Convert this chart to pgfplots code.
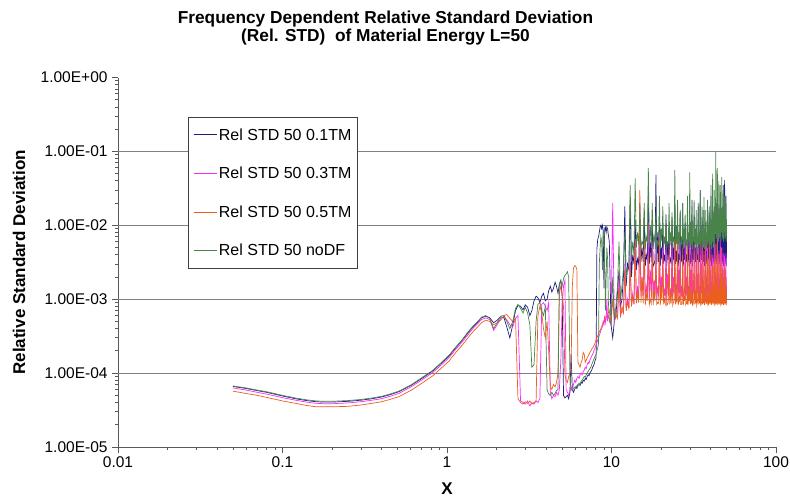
\documentclass[border=0pt]{standalone}
\usepackage{pgfplots}
\pgfplotsset{compat=1.18}
\usepackage{pgfplotstable}
\usepackage{fontspec}
\setmainfont{Liberation Sans}

\definecolor{stdA}{RGB}{30,30,125}
\definecolor{stdB}{RGB}{255,40,255}
\definecolor{stdC}{RGB}{235,95,28}
\definecolor{stdD}{RGB}{72,132,72}
\definecolor{gridgray}{RGB}{128,128,128}

% columns: x, b = 0.1TM, m = 0.3TM, o = 0.5TM, g = noDF
\pgfplotstableread{
x b m o g
0.05 6.6e-5 6.3e-5 5.7e-5 6.7e-5
0.06 6.2e-5 5.9e-5 5.3e-5 6.3e-5
0.07 5.8e-5 5.5e-5 5.0e-5 5.9e-5
0.08 5.5e-5 5.2e-5 4.7e-5 5.6e-5
0.10 4.9e-5 4.65e-5 4.2e-5 5.0e-5
0.12 4.5e-5 4.3e-5 3.9e-5 4.6e-5
0.14 4.25e-5 4.05e-5 3.65e-5 4.35e-5
0.16 4.1e-5 3.9e-5 3.5e-5 4.2e-5
0.18 4.05e-5 3.85e-5 3.5e-5 4.15e-5
0.20 4.05e-5 3.85e-5 3.5e-5 4.15e-5
0.25 4.15e-5 3.95e-5 3.55e-5 4.25e-5
0.30 4.3e-5 4.1e-5 3.7e-5 4.4e-5
0.35 4.5e-5 4.3e-5 3.9e-5 4.6e-5
0.40 4.75e-5 4.5e-5 4.1e-5 4.85e-5
0.45 5.1e-5 4.85e-5 4.4e-5 5.2e-5
0.51 5.6e-5 5.3e-5 4.8e-5 5.7e-5
0.61 6.9e-5 6.6e-5 5.9e-5 7.0e-5
0.71 8.6e-5 8.2e-5 7.4e-5 8.8e-5
0.82 1.07e-4 1.02e-4 9.2e-5 1.09e-4
0.92 1.35e-4 1.28e-4 1.16e-4 1.38e-4
1.03 1.7e-4 1.62e-4 1.46e-4 1.75e-4
1.13 2.2e-4 2.1e-4 1.9e-4 2.25e-4
1.24 2.8e-4 2.65e-4 2.4e-4 2.85e-4
1.34 3.5e-4 3.3e-4 3.0e-4 3.6e-4
1.45 4.3e-4 4.1e-4 3.7e-4 4.4e-4
1.55 5.0e-4 4.75e-4 4.3e-4 5.1e-4
1.62 5.6e-4 5.3e-4 4.8e-4 5.7e-4
1.72 5.9e-4 5.6e-4 5.2e-4 6.0e-4
1.82 5.6e-4 5.3e-4 5.0e-4 5.5e-4
1.92 4.8e-4 3.8e-4 4.5e-4 4.0e-4
2.02 5.2e-4 4.5e-4 4.8e-4 4.8e-4
2.12 5.8e-4 5.5e-4 5.2e-4 5.9e-4
2.22 5.6e-4 5.8e-4 6.0e-4 6.0e-4
2.31 4.2e-4 5.3e-4 6.2e-4 5.0e-4
2.41 3.0e-4 4.5e-4 5.5e-4 4.0e-4
2.51 4.5e-4 4.2e-4 5.0e-4 5.0e-4
2.61 7.0e-4 5.5e-4 5.5e-4 7.5e-4
2.70 8.3e-4 6.0e-4 4.5e-5 8.5e-4
2.80 8.0e-4 4.2e-5 4.0e-5 7.5e-4
2.90 7.2e-4 4.0e-5 3.8e-5 6.5e-4
2.99 8.4e-4 3.8e-5 4.1e-5 7.8e-4
3.09 7.8e-4 4.2e-5 3.9e-5 6.5e-4
3.19 6.0e-4 3.6e-5 4.2e-5 4.5e-4
3.28 7.0e-4 4.0e-5 3.8e-5 1.2e-4
3.38 9.5e-4 3.8e-5 4.0e-5 1.3e-4
3.48 1.1e-3 4.2e-5 4.2e-5 5.0e-4
3.57 1.05e-3 4.0e-5 6.0e-4 8.5e-4
3.67 9.0e-4 4.5e-5 8.0e-4 9.0e-4
3.77 1.1e-3 8.5e-4 6.5e-4 7.0e-4
3.86 1.2e-3 9.0e-4 4.0e-4 6.0e-4
3.96 9.5e-4 8.0e-4 3.0e-4 8.0e-4
4.06 1.0e-3 7.0e-4 5.0e-4 6.0e-5
4.15 1.3e-3 9.0e-4 2.0e-4 5.2e-5
4.25 1.5e-3 5.5e-5 6.6e-5 5.0e-5
4.34 1.25e-3 4.5e-5 6.0e-5 5.5e-5
4.44 1.4e-3 5.0e-5 7.0e-5 5.0e-5
4.54 1.7e-3 4.8e-5 6.5e-5 5.3e-5
4.63 1.5e-3 5.5e-5 7.5e-5 5.8e-5
4.73 1.2e-3 5.0e-5 1.0e-4 6.0e-5
4.82 1.6e-3 6.0e-5 1.2e-3 1.6e-3
4.92 1.8e-3 1.5e-4 1.5e-3 1.8e-3
5.01 1.1e-3 8.0e-4 1.2e-3 1.5e-3
5.11 5.0e-5 1.5e-3 8.0e-4 1.9e-3
5.21 4.6e-5 1.8e-3 9.5e-5 2.1e-3
5.30 4.8e-5 6.0e-5 8.0e-5 2.2e-3
5.40 5.0e-5 5.5e-5 7.5e-5 2.35e-3
5.49 4.5e-5 5.0e-5 9.0e-5 2.0e-3
5.59 5.5e-5 5.8e-5 1.0e-4 8.5e-5
5.68 1.8e-4 6.5e-5 1.2e-4 6.0e-5
5.78 6.0e-5 6.0e-5 1.5e-3 5.8e-5
5.87 5.5e-5 7.0e-5 2.6e-3 6.2e-5
5.97 6.0e-5 8.0e-5 2.85e-3 6.5e-5
6.06 6.5e-5 7.5e-5 2.8e-3 6.3e-5
6.16 6.2e-5 8.5e-5 2.5e-3 6.8e-5
6.25 6.8e-5 9.0e-5 1.4e-4 7.0e-5
6.35 7.0e-5 8.5e-5 1.3e-4 7.3e-5
6.44 6.8e-5 9.5e-5 1.2e-4 7.0e-5
6.54 7.5e-5 1.0e-4 1.4e-4 7.8e-5
6.63 7.3e-5 9.5e-5 1.5e-4 8.0e-5
6.73 8.0e-5 1.05e-4 1.9e-4 8.5e-5
6.83 7.8e-5 1.1e-4 1.8e-4 9.0e-5
6.92 8.5e-5 1.2e-4 1.4e-4 8.8e-5
7.02 8.2e-5 1.15e-4 1.5e-4 9.5e-5
7.11 9.0e-5 1.3e-4 1.6e-4 1.0e-4
7.21 9.5e-5 1.4e-4 1.7e-4 1.05e-4
7.30 9.2e-5 1.35e-4 1.8e-4 1.1e-4
7.39 1.0e-4 1.5e-4 1.9e-4 1.15e-4
7.49 1.05e-4 1.6e-4 2.0e-4 1.2e-4
7.58 1.1e-4 1.7e-4 2.1e-4 1.3e-4
7.68 1.2e-4 1.8e-4 2.2e-4 1.4e-4
7.77 1.25e-4 1.9e-4 2.3e-4 1.5e-4
7.87 1.35e-4 2.1e-4 2.4e-4 1.6e-4
7.96 1.5e-4 2.2e-4 2.6e-4 1.7e-4
8.06 1.6e-4 2.4e-4 2.8e-4 1.8e-4
8.15 4.7e-3 2.6e-4 3.0e-4 2.0e-4
8.25 6.5e-3 2.8e-4 3.2e-4 2.2e-4
8.34 7.0e-3 3.0e-4 3.4e-4 2.5e-4
8.43 8.0e-3 3.2e-4 3.6e-4 3.0e-3
8.53 9.5e-3 3.5e-4 3.8e-4 5.0e-3
8.62 1.0e-2 3.8e-4 4.0e-4 7.0e-3
8.72 9.0e-3 4.0e-4 4.3e-4 6.0e-3
8.81 1.0e-2 4.3e-4 4.5e-4 2.5e-3
8.90 8.5e-3 5.0e-4 4.8e-4 8.0e-3
9.00 1.4e-3 4.5e-4 5.0e-4 8.6e-3
9.09 9.0e-3 6.0e-4 5.3e-4 4.0e-3
9.18 9.5e-3 4.8e-4 5.5e-4 7.0e-4
9.28 8.0e-3 5.5e-4 5.8e-4 2.0e-3
9.37 9.5e-3 1.0e-3 6.0e-4 5.0e-3
9.47 9.0e-3 5.0e-4 6.3e-4 3.5e-3
9.56 7.5e-3 6.0e-4 6.5e-4 1.0e-3
9.70 6.0e-3 5.5e-4 7.0e-4 5.0e-4
9.935 4.5e-4 4.5e-4 4.8e-4 4.6e-4
10.17 3.0e-4 2.0e-2 1.0e-3 2.0e-3
10.405 5.0e-4 5.0e-4 5.2e-4 5.2e-4
10.64 6.0e-4 6.0e-4 6.5e-4 8.0e-4
10.875 1.2e-3 5.5e-4 5.6e-4 1.5e-3
11.11 2.5e-3 2.0e-3 1.5e-3 6.0e-3
11.345 8.0e-4 6.0e-4 6.0e-4 1.0e-3
11.58 1.0e-3 7.0e-4 8.0e-4 1.5e-3
11.815 2.0e-3 6.5e-4 6.5e-4 2.5e-3
12.05 1.8e-2 3.0e-3 2.5e-3 8.0e-3
12.285 1.5e-3 7.0e-4 7.0e-4 2.0e-3
12.52 3.0e-3 1.0e-3 9.0e-4 2.5e-3
12.755 2.5e-3 7.5e-4 7.5e-4 3.0e-3
12.99 2.2e-2 4.0e-3 3.0e-3 3.5e-2
13.225 2.0e-3 8.0e-4 8.0e-4 3.5e-3
13.46 4.0e-3 1.2e-3 1.1e-3 6.0e-3
13.695 3.0e-3 8.5e-4 8.5e-4 4.0e-3
13.93 1.2e-2 6.0e-3 6.0e-3 4.3e-2
14.165 2.5e-3 9.0e-4 8.8e-4 5.0e-3
14.40 3.5e-3 1.5e-3 1.2e-3 8.0e-3
14.635 3.0e-3 1.0e-3 9.0e-4 5.5e-3
14.87 2.0e-2 8.0e-3 3.0e-2 1.5e-2
15.105 3.2e-3 1.1e-3 9.0e-4 5.0e-3
15.34 5.0e-3 2.0e-3 2.0e-3 6.0e-3
15.575 3.2e-3 1.1e-3 8.8e-4 5.5e-3
15.81 1.5e-2 5.0e-3 6.0e-3 2.0e-2
16.045 2.8e-3 9.5e-4 8.3e-4 4.8e-3
16.28 4.0e-3 1.5e-3 1.2e-3 7.0e-3
16.515 3.4e-3 1.2e-3 9.5e-4 6.0e-3
16.75 2.5e-2 1.1e-2 4.0e-3 6.0e-2
16.985 3.0e-3 1.0e-3 8.5e-4 5.0e-3
17.22 6.0e-3 2.5e-3 1.0e-3 1.0e-2
17.455 3.2e-3 1.1e-3 8.8e-4 5.5e-3
17.69 1.2e-2 6.0e-3 5.0e-3 2.0e-2
17.925 2.8e-3 9.5e-4 8.3e-4 4.8e-3
18.16 3.0e-3 1.8e-3 1.3e-3 7.0e-3
18.395 3.4e-3 1.2e-3 9.5e-4 6.0e-3
18.63 4.8e-2 4.5e-3 3.5e-3 1.5e-2
18.865 3.0e-3 1.0e-3 8.5e-4 5.0e-3
19.10 8.0e-3 1.5e-3 9.0e-4 6.0e-3
19.335 3.2e-3 1.1e-3 8.8e-4 5.5e-3
19.57 1.6e-2 8.0e-3 6.0e-3 2.5e-2
19.805 2.8e-3 9.5e-4 8.3e-4 4.8e-3
20.04 5.0e-3 2.0e-3 1.5e-3 9.0e-3
20.275 3.4e-3 1.2e-3 9.5e-4 6.0e-3
20.51 1.0e-2 5.0e-3 4.0e-3 1.8e-2
20.745 3.0e-3 1.0e-3 8.5e-4 5.0e-3
20.98 4.0e-3 1.3e-3 1.0e-3 7.0e-3
21.215 3.2e-3 1.1e-3 8.8e-4 5.5e-3
21.45 1.4e-2 7.0e-3 3.0e-3 1.2e-2
21.685 2.8e-3 9.5e-4 8.3e-4 4.8e-3
21.92 6.0e-3 2.2e-3 8.5e-4 6.0e-3
22.155 3.4e-3 1.2e-3 9.5e-4 6.0e-3
22.39 9.0e-3 4.0e-3 5.5e-3 2.0e-2
22.625 3.0e-3 1.0e-3 8.5e-4 5.0e-3
22.86 3.5e-3 1.4e-3 1.2e-3 8.0e-3
23.095 3.2e-3 1.1e-3 8.8e-4 5.5e-3
23.33 1.3e-2 9.0e-3 3.5e-3 1.5e-2
23.565 2.8e-3 9.5e-4 8.3e-4 4.8e-3
23.80 5.0e-3 2.0e-3 9.0e-4 7.0e-3
24.035 3.4e-3 1.2e-3 9.5e-4 6.0e-3
24.27 1.8e-2 5.5e-3 6.5e-3 5.6e-2
24.505 3.0e-3 1.0e-3 8.5e-4 5.0e-3
24.74 4.5e-3 1.6e-3 1.4e-3 1.0e-2
24.975 3.2e-3 1.1e-3 8.8e-4 5.5e-3
25.21 1.0e-2 1.0e-2 1.2e-2 2.2e-2
25.445 2.8e-3 9.5e-4 8.3e-4 4.8e-3
25.68 3.8e-3 2.5e-3 1.0e-3 8.0e-3
25.915 3.4e-3 1.2e-3 9.5e-4 6.0e-3
26.15 1.5e-2 6.0e-3 4.0e-3 1.6e-2
26.385 3.0e-3 1.0e-3 8.5e-4 5.0e-3
26.62 6.0e-3 1.5e-3 8.5e-4 7.0e-3
26.855 3.2e-3 1.1e-3 8.8e-4 5.5e-3
27.09 2.0e-2 4.0e-3 5.0e-3 2.0e-2
27.325 2.8e-3 9.5e-4 8.3e-4 4.8e-3
27.56 5.0e-3 1.2e-3 1.1e-3 9.0e-3
27.795 3.4e-3 1.2e-3 9.5e-4 6.0e-3
28.03 1.1e-2 7.5e-3 3.0e-3 1.4e-2
28.265 3.0e-3 1.0e-3 8.5e-4 5.0e-3
28.50 4.0e-3 2.0e-3 9.0e-4 6.0e-3
28.735 3.2e-3 1.1e-3 8.8e-4 5.5e-3
28.97 1.6e-2 5.0e-3 1.2e-2 2.5e-2
29.205 2.8e-3 9.5e-4 8.3e-4 4.8e-3
29.44 7.0e-3 1.5e-3 1.3e-3 8.0e-3
29.675 3.4e-3 1.2e-3 9.5e-4 6.0e-3
29.91 1.2e-2 9.0e-3 4.5e-3 5.2e-2
30.145 3.0e-3 1.0e-3 8.5e-4 5.0e-3
30.38 4.0e-3 2.5e-3 1.0e-3 1.1e-2
30.615 3.2e-3 1.1e-3 8.8e-4 5.5e-3
30.85 2.2e-2 6.5e-3 3.5e-3 1.8e-2
31.085 2.8e-3 9.5e-4 8.3e-4 4.8e-3
31.32 6.0e-3 1.8e-3 8.5e-4 7.0e-3
31.555 3.4e-3 1.2e-3 9.5e-4 6.0e-3
31.79 1.4e-2 4.5e-3 6.0e-3 2.2e-2
32.025 3.0e-3 1.0e-3 8.5e-4 5.0e-3
32.26 5.0e-3 1.3e-3 1.2e-3 9.0e-3
32.495 3.2e-3 1.1e-3 8.8e-4 5.5e-3
32.73 1.0e-2 8.0e-3 4.0e-3 1.6e-2
32.965 2.8e-3 9.5e-4 8.3e-4 4.8e-3
33.20 4.0e-3 2.2e-3 9.0e-4 6.5e-3
33.435 3.4e-3 1.2e-3 9.5e-4 6.0e-3
33.67 1.8e-2 5.0e-3 5.0e-3 2.0e-2
33.905 3.0e-3 1.0e-3 8.5e-4 5.0e-3
34.14 7.0e-3 1.5e-3 1.1e-3 8.0e-3
34.375 3.2e-3 1.1e-3 8.8e-4 5.5e-3
34.61 3.0e-2 1.1e-2 3.0e-3 2.8e-2
34.845 2.8e-3 9.5e-4 8.3e-4 4.8e-3
35.08 8.0e-3 3.0e-3 8.5e-4 1.0e-2
35.315 3.4e-3 1.2e-3 9.5e-4 6.0e-3
35.55 1.3e-2 6.0e-3 7.0e-3 1.8e-2
35.785 3.0e-3 1.0e-3 8.5e-4 5.0e-3
36.02 5.0e-3 1.8e-3 1.3e-3 7.0e-3
36.255 3.2e-3 1.1e-3 8.8e-4 5.5e-3
36.49 1.6e-2 4.5e-3 4.0e-3 2.4e-2
36.725 2.8e-3 9.5e-4 8.3e-4 4.8e-3
36.96 6.0e-3 1.4e-3 9.0e-4 9.0e-3
37.195 3.4e-3 1.2e-3 9.5e-4 6.0e-3
37.43 1.1e-2 7.0e-3 5.5e-3 1.6e-2
37.665 3.0e-3 1.0e-3 8.5e-4 5.0e-3
37.90 4.5e-3 2.0e-3 1.0e-3 7.0e-3
38.135 3.2e-3 1.1e-3 8.8e-4 5.5e-3
38.37 2.0e-2 5.0e-3 3.5e-3 2.2e-2
38.605 2.8e-3 9.5e-4 8.3e-4 4.8e-3
38.84 7.0e-3 1.6e-3 8.5e-4 1.0e-2
39.075 3.4e-3 1.2e-3 9.5e-4 6.0e-3
39.31 1.5e-2 9.0e-3 8.0e-3 1.8e-2
39.545 3.0e-3 1.0e-3 8.5e-4 5.0e-3
39.78 6.0e-3 2.5e-3 1.2e-3 8.0e-3
40.015 3.2e-3 1.1e-3 8.8e-4 5.5e-3
40.25 2.5e-2 6.0e-3 4.0e-3 3.5e-2
40.485 2.8e-3 9.5e-4 8.3e-4 4.8e-3
40.72 8.0e-3 1.7e-3 9.0e-4 1.2e-2
40.955 3.4e-3 1.2e-3 9.5e-4 6.0e-3
41.19 1.2e-2 4.0e-3 3.0e-3 5.0e-2
41.425 3.0e-3 1.0e-3 8.5e-4 5.0e-3
41.66 5.0e-3 1.3e-3 1.0e-3 1.5e-2
41.895 3.2e-3 1.1e-3 8.8e-4 5.5e-3
42.13 1.8e-2 7.0e-3 5.5e-3 3.0e-2
42.365 2.8e-3 9.5e-4 8.3e-4 4.8e-3
42.60 7.0e-3 2.0e-3 8.5e-4 1.2e-2
42.835 3.4e-3 1.2e-3 9.5e-4 8.0e-3
43.07 2.2e-2 5.5e-3 3.5e-3 9.8e-2
43.305 3.0e-3 1.0e-3 8.5e-4 6.5e-3
43.54 9.0e-3 1.5e-3 1.1e-3 2.0e-2
43.775 3.2e-3 1.1e-3 8.8e-4 7.0e-3
44.01 1.4e-2 8.0e-3 7.0e-3 6.0e-2
44.245 2.8e-3 9.5e-4 8.3e-4 6.0e-3
44.48 6.0e-3 2.2e-3 9.0e-4 1.5e-2
44.715 3.4e-3 1.2e-3 9.5e-4 8.0e-3
44.95 1.9e-2 4.5e-3 4.0e-3 4.0e-2
45.185 3.0e-3 1.0e-3 8.5e-4 6.5e-3
45.42 8.0e-3 1.4e-3 1.0e-3 1.2e-2
45.655 3.2e-3 1.1e-3 8.8e-4 7.0e-3
45.89 2.8e-2 6.5e-3 3.0e-3 3.5e-2
46.125 2.8e-3 9.5e-4 8.3e-4 6.0e-3
46.36 9.0e-3 1.8e-3 8.5e-4 1.4e-2
46.595 3.4e-3 1.2e-3 9.5e-4 8.0e-3
46.83 1.6e-2 5.0e-3 5.0e-3 4.5e-2
47.065 3.0e-3 1.0e-3 8.5e-4 6.5e-3
47.30 7.0e-3 1.3e-3 1.1e-3 1.2e-2
47.535 3.2e-3 1.1e-3 8.8e-4 7.0e-3
47.77 3.5e-2 4.2e-3 2.5e-3 3.0e-2
48.005 2.8e-3 9.5e-4 8.3e-4 6.0e-3
48.24 1.0e-2 1.6e-3 9.0e-4 1.0e-2
48.475 3.4e-3 1.2e-3 9.5e-4 8.0e-3
48.71 4.1e-2 4.0e-3 3.0e-3 2.5e-2
48.945 3.0e-3 1.0e-3 8.5e-4 6.5e-3
49.18 1.2e-2 1.2e-3 1.0e-3 8.0e-3
49.415 3.2e-3 1.1e-3 8.8e-4 7.0e-3
49.65 2.5e-2 4.2e-3 2.0e-3 2.0e-2
49.885 2.8e-3 9.5e-4 8.3e-4 6.0e-3
50.12 8.0e-3 1.5e-3 1.1e-3 1.2e-2
}\relstd

\begin{document}
\begin{tikzpicture}
\begin{axis}[
  scale only axis, width=658pt, height=369.5pt,
  xmode=log, ymode=log,
  xmin=0.01, xmax=100, ymin=1e-5, ymax=1,
  axis lines*=left,
  axis line style={draw=black!65, line width=0.9pt},
  xtick={0.01,0.1,1,10,100},
  xticklabels={0.01,0.1,1,10,100},
  ytick={1e-5,1e-4,1e-3,1e-2,1e-1,1},
  yticklabels={1.00E-05,1.00E-04,1.00E-03,1.00E-02,1.00E-01,1.00E+00},
  minor xtick={}, minor ytick={},
  tick align=outside, major tick length=6pt,
  tick style={draw=black!65, line width=0.8pt},
  extra y ticks={1e-4,1e-3,1e-2,1e-1},
  extra y tick labels={},
  extra y tick style={grid=major, major tick length=0pt},
  grid style={draw=gridgray, line width=1.2pt},
  ticklabel style={font=\fontsize{15.5}{17}\selectfont},
  yticklabel style={xshift=-1pt},
  xlabel={X},
  ylabel={Relative Standard Deviation},
  label style={font=\bfseries\fontsize{17}{20}\selectfont},
  xlabel style={at={(axis description cs:0.5,0)}, anchor=center, yshift=-42pt},
  ylabel style={at={(axis description cs:-0.1505,0.5)}, anchor=center},
  legend style={at={(rel axis cs:0.1064,0.893)}, anchor=north west,
    draw=black!75, line width=0.8pt, fill=white,
    font=\fontsize{16}{18}\selectfont,
    inner xsep=5pt, inner ysep=9.5pt, row sep=22.5pt,
    nodes={inner sep=1.5pt}},
  legend cell align=left,
  legend image code/.code={\draw[#1, line width=1pt] (0pt,0pt) -- (23pt,0pt);},
  every axis plot/.append style={line width=0.7pt},
]
\addplot[stdA] table[x=x, y=b] {\relstd};
\addlegendentry{Rel STD 50 0.1TM}
\addplot[stdB] table[x=x, y=m] {\relstd};
\addlegendentry{Rel STD 50 0.3TM}
\addplot[stdC] table[x=x, y=o] {\relstd};
\addlegendentry{Rel STD 50 0.5TM}
\addplot[stdD] table[x=x, y=g] {\relstd};
\addlegendentry{Rel STD 50 noDF}
\coordinate (bl) at (rel axis cs:0,0);
\coordinate (tr) at (rel axis cs:1,1);
\coordinate (ttl) at (rel axis cs:0.4065,1);
\end{axis}
\node[font=\bfseries\fontsize{17.3}{17.5}\selectfont, align=center, anchor=center]
  at ([yshift=49.5pt]ttl)
  {Frequency Dependent Relative Standard Deviation\\(Rel. STD)\ \ of Material Energy L=50};
\pgfresetboundingbox
\path ([shift={(-118pt,-51pt)}]bl) rectangle ([shift={(14pt,77.5pt)}]tr);
\end{tikzpicture}
\end{document}
